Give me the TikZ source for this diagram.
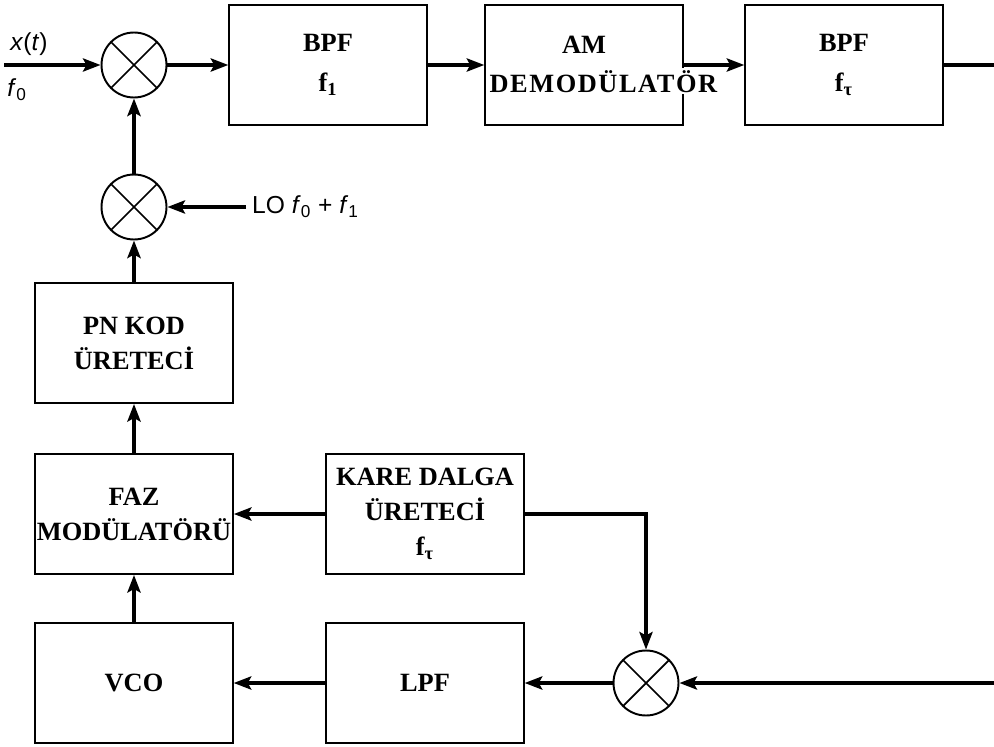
\documentclass[tikz,border=0pt]{standalone}
\usepackage{fontspec}
\setmainfont{Liberation Serif}
\setsansfont{Liberation Sans}
\usepackage{tikz}
\usetikzlibrary{arrows.meta}
\setlength{\fboxsep}{1pt}

\begin{document}
\begin{tikzpicture}[x=0.02cm,y=0.02cm,
   blk/.style={draw,line width=1.1pt,minimum width=3.95cm,minimum height=2.4cm,
     inner sep=1pt,align=center,font=\fontsize{15}{20}\selectfont\bfseries},
   mix/.style={circle,draw,line width=1.1pt,minimum size=1.3cm,inner sep=0pt,
     path picture={\draw[line width=1pt]
       (path picture bounding box.south west) -- (path picture bounding box.north east)
       (path picture bounding box.north west) -- (path picture bounding box.south east);}},
   sig/.style={line width=1.9pt,-{Stealth[length=10pt,width=7.5pt,inset=2pt]}},
   thk/.style={sig,line width=2.8pt},
   lbl/.style={font=\fontsize{14}{16}\selectfont\sffamily}]
  \useasboundingbox (0,0) rectangle (994,-747);
  % mixers
  \node[mix] (m1) at (134,-65)  {};
  \node[mix] (m2) at (134,-207) {};
  \node[mix] (m3) at (646,-683) {};
  % top row
  \node[blk,font=\fontsize{15}{23}\selectfont\bfseries]
        (bpf1) at (328,-65) {BPF\\f\textsubscript{1}};
  \node[blk,text width=3.85cm,font=\fontsize{15}{22}\selectfont\bfseries]
        (am) at (584,-65)
        {AM\\\colorbox{white}{\addfontfeature{LetterSpace=6}DEMODÜLATÖR}};
  \node[blk,font=\fontsize{15}{23}\selectfont\bfseries]
        (bpf2) at (844,-65) {BPF\\f\textsubscript{τ}};
  % left column
  \node[blk] (pn)  at (134,-343) {PN KOD\\ÜRETECİ};
  \node[blk] (faz) at (134,-514) {FAZ\\MODÜLATÖRÜ};
  \node[blk] (vco) at (134,-683) {VCO};
  % tracking loop
  \node[blk] (kare) at (425,-514) {KARE DALGA\\ÜRETECİ\\f\textsubscript{τ}};
  \node[blk] (lpf)  at (425,-683) {LPF};
  % signal labels
  \node[lbl] (xlab) at (29,-44) {\textit{x}(\textit{t})};
  \node[lbl] (flab) at (17,-90) {\textit{f}\textsubscript{0}};
  \node[lbl,anchor=west] (lo) at (246,-207)
     {LO \textit{f}\textsubscript{0} + \textit{f}\textsubscript{1}};
  \coordinate (in)  at (4,-65);
  \coordinate (out) at (994,-65);
  \coordinate (rin) at (994,-683);
  % connectors
  \draw[sig] (in) -- (m1);
  \draw[sig] (m1) -- (bpf1);
  \draw[sig] (bpf1) -- (am);
  \draw[sig] (am.east) -- (bpf2);
  \draw[line width=1.9pt] (bpf2) -- (out);
  \draw[thk] (m2) -- (m1);
  \draw[sig] (lo) -- (m2);
  \draw[thk] (pn) -- (m2);
  \draw[thk] (faz) -- (pn);
  \draw[sig] (vco) -- (faz);
  \draw[sig] (kare) -- (faz);
  \draw[sig] (kare.east) -| (m3);
  \draw[sig] (m3) -- (lpf);
  \draw[sig] (lpf) -- (vco);
  \draw[sig] (rin) -- (m3);
\end{tikzpicture}
\end{document}
